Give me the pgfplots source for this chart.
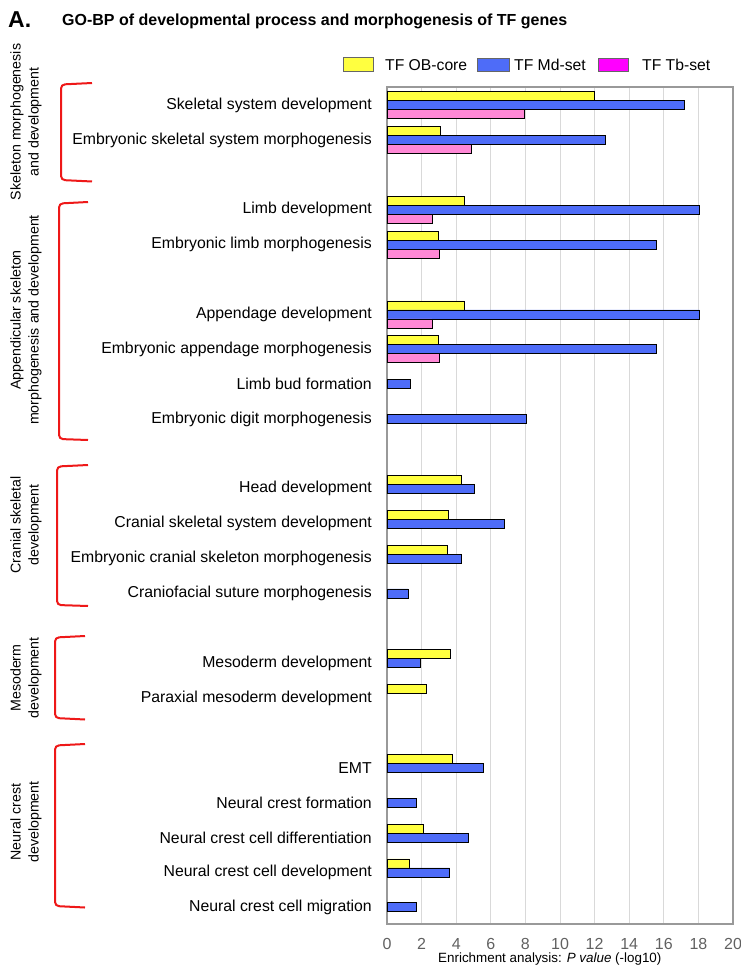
\documentclass[border=0pt]{standalone}
\usepackage{pgfplots}
\pgfplotsset{compat=1.18}
\usepackage{fontspec}
\setmainfont{Liberation Sans}

\definecolor{obcore}{RGB}{255,255,64}
\definecolor{mdset}{RGB}{78,108,248}
\definecolor{tbset}{RGB}{255,136,214}
\definecolor{tbleg}{RGB}{255,0,255}
\definecolor{brk}{RGB}{238,24,24}

% y = slot of the category (gaps between groups)
\pgfplotstableread{
y  v
0  12.0
1  3.1
3  4.45
4  2.97
6  4.45
7  2.97
11 4.3
12 3.56
13 3.5
16 3.68
17 2.25
19 3.78
21 2.1
22 1.31
}\obcore
\pgfplotstableread{
y  v
0  17.2
1  12.65
3  18.05
4  15.57
6  18.05
7  15.57
8  1.37
9  8.03
11 5.05
12 6.78
13 4.32
14 1.21
16 1.93
19 5.55
20 1.7
21 4.7
22 3.62
23 1.68
}\mdset
\pgfplotstableread{
y  v
0  7.95
1  4.9
3  2.6
4  3.0
6  2.6
7  3.0
}\tbset

\begin{document}
\begin{tikzpicture}
\begin{axis}[
  at={(387pt,-924pt)}, anchor=south west,
  scale only axis, width=346pt, height=837pt,
  xbar, bar width=9pt,
  xmin=0, xmax=20, xtick={0,2,...,20},
  ymin=-0.52, ymax=23.48, y dir=reverse,
  ytick={0,1,3,4,6,7,8,9,11,12,13,14,16,17,19,20,21,22,23},
  yticklabels={Skeletal system development,
    Embryonic skeletal system morphogenesis,
    Limb development,
    Embryonic limb morphogenesis,
    Appendage development,
    Embryonic appendage morphogenesis,
    Limb bud formation,
    Embryonic digit morphogenesis,
    Head development,
    Cranial skeletal system development,
    Embryonic cranial skeleton morphogenesis,
    Craniofacial suture morphogenesis,
    Mesoderm development,
    Paraxial mesoderm development,
    EMT,
    Neural crest formation,
    Neural crest cell differentiation,
    Neural crest cell development,
    Neural crest cell migration},
  major tick length=0pt,
  xmajorgrids, grid style={draw=black!15, line width=0.9pt},
  axis line style={draw=black!40, line width=1.2pt},
  /pgf/number format/assume math mode=true,
  yticklabel style={anchor=east, inner sep=0pt, xshift=-15pt,
    font=\fontsize{15.8}{18}\selectfont},
  xticklabel style={anchor=base, inner sep=0pt, yshift=-25pt,
    text=black!62, font=\fontsize{16}{18}\selectfont},
  every axis plot/.append style={draw=black, line width=0.8pt},
]
\addplot[fill=obcore, bar shift=9pt] table[x=v, y=y] {\obcore};
\addplot[fill=mdset, bar shift=0pt] table[x=v, y=y] {\mdset};
\addplot[fill=tbset, bar shift=-9pt] table[x=v, y=y] {\tbset};
\end{axis}

% titles
\node[anchor=base west, inner sep=0pt, font=\fontsize{23}{26}\bfseries\selectfont] at (8pt,-28pt) {A.};
\node[anchor=base west, inner sep=0pt, font=\fontsize{16}{18}\bfseries\selectfont] at (62pt,-26pt)
  {GO-BP of developmental process and morphogenesis of TF genes};

% legend
\begin{scope}[every node/.style={anchor=base west, inner sep=0pt, font=\fontsize{15.7}{18}\selectfont}]
\draw[fill=obcore, draw=black!60, line width=0.8pt] (343pt,-57.5pt) rectangle (373pt,-71pt);
\node at (385pt,-71pt) {TF OB-core};
\draw[fill=mdset, draw=black!60, line width=0.8pt] (477pt,-58pt) rectangle (509pt,-71pt);
\node at (514pt,-71pt) {TF Md-set};
\draw[fill=tbleg, draw=black!60, line width=0.8pt] (598pt,-58pt) rectangle (628pt,-71pt);
\node at (642pt,-71pt) {TF Tb-set};
\end{scope}

% x label
\node[anchor=base west, inner sep=0pt, font=\fontsize{13.4}{16}\selectfont] at (438pt,-962.5pt)
  {Enrichment analysis: \textit{P value} (-log10)};

% brackets
\begin{scope}[draw=brk, line width=2pt, rounded corners=4pt]
\draw (92pt,-83pt) -- (61pt,-84.5pt) -- (61pt,-180pt) -- (92pt,-181.5pt);
\draw (88pt,-202pt) -- (59pt,-203.5pt) -- (59pt,-439pt) -- (88pt,-440pt);
\draw (88pt,-465pt) -- (57pt,-466.5pt) -- (57pt,-605pt) -- (88pt,-606pt);
\draw (85pt,-636pt) -- (55pt,-637.5pt) -- (55pt,-718pt) -- (85pt,-719.5pt);
\draw (85pt,-744pt) -- (55pt,-745.5pt) -- (55pt,-906pt) -- (85pt,-907.5pt);
\end{scope}

% group labels
\begin{scope}[every node/.style={rotate=90, align=center, inner sep=0pt,
    font=\fontsize{14.2}{18}\selectfont}]
\node at (26pt,-122pt) {Skeleton morphogenesis\\and development};
\node at (26pt,-320pt) {Appendicular skeleton\\morphogenesis and development};
\node at (26pt,-525pt) {Cranial skeletal\\development};
\node at (26pt,-678pt) {Mesoderm\\development};
\node at (26pt,-822pt) {Neural crest\\development};
\end{scope}

\pgfresetboundingbox
\useasboundingbox (0pt,0pt) rectangle (740pt,-971pt);
\end{tikzpicture}
\end{document}
